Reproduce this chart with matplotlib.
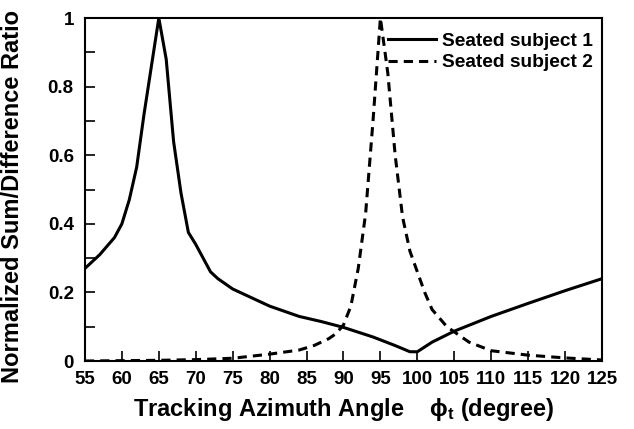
import numpy as np
import matplotlib.pyplot as plt
from matplotlib.ticker import MultipleLocator, FuncFormatter

plt.rcParams['font.family'] = ['Liberation Sans', 'DejaVu Sans']
plt.rcParams['font.weight'] = 'bold'
plt.rcParams['mathtext.fontset'] = 'custom'
plt.rcParams['mathtext.rm'] = 'Liberation Sans:bold'
plt.rcParams['mathtext.it'] = 'Liberation Sans:bold'
plt.rcParams['mathtext.bf'] = 'Liberation Sans:bold'

# Seated subject 1
angle_1 = [55, 56, 57, 58, 59, 60, 61, 62, 63, 64, 65, 66, 67, 68, 69, 70, 71, 72, 73, 74, 75,
           77, 80, 84, 87, 90, 94, 97, 99, 100, 102, 105, 110, 115, 120, 125]
ratio_1 = [0.27, 0.29, 0.31, 0.335, 0.36, 0.40, 0.47, 0.565, 0.72, 0.86, 1.0, 0.88, 0.64, 0.49,
           0.375, 0.34, 0.30, 0.26, 0.24, 0.225, 0.21, 0.19, 0.16, 0.13, 0.115, 0.098, 0.07,
           0.045, 0.027, 0.027, 0.055, 0.087, 0.13, 0.168, 0.205, 0.24]

# Seated subject 2
angle_2 = [55, 60, 65, 70, 75, 80, 84, 86, 88, 89, 90, 91, 92, 93, 94, 95, 96, 97, 98, 99, 100,
           101, 102, 103, 104, 105, 107, 110, 115, 120, 125]
ratio_2 = [0.0, 0.001, 0.002, 0.004, 0.008, 0.02, 0.032, 0.045, 0.065, 0.08, 0.105, 0.16, 0.27,
           0.43, 0.70, 1.0, 0.84, 0.60, 0.42, 0.32, 0.26, 0.20, 0.15, 0.125, 0.10, 0.085, 0.055,
           0.03, 0.017, 0.009, 0.003]

fig = plt.figure(figsize=(6.34, 4.29), dpi=100)
ax = fig.add_axes([0.134, 0.1585, 0.8155, 0.7995])

ax.plot(angle_1, ratio_1, color='black', lw=2.2, label='Seated subject 1')
ax.plot(angle_2, ratio_2, color='black', lw=2.2, dashes=(3, 2), label='Seated subject 2')

ax.set_xlim(55, 125)
ax.set_ylim(0, 1)
ax.xaxis.set_major_locator(MultipleLocator(5))
ax.yaxis.set_major_locator(MultipleLocator(0.2))
ax.yaxis.set_minor_locator(MultipleLocator(0.1))
ax.yaxis.set_major_formatter(FuncFormatter(lambda v, p: f'{v:g}'))
ax.tick_params(which='both', direction='in', length=7, width=1.2, labelsize=13.5)
ax.tick_params(axis='x', pad=7)
ax.tick_params(axis='y', pad=8)
for s in ax.spines.values():
    s.set_linewidth(1.5)

ax.set_xlabel(r'Tracking Azimuth Angle    $\phi_t$ (degree)', fontsize=17, fontweight='bold', labelpad=6)
ax.set_ylabel('Normalized Sum/Difference Ratio', fontsize=17, fontweight='bold')
ax.yaxis.set_label_coords(-0.118, 0.48)

ax.legend(loc='upper right', frameon=False, fontsize=13.8, handlelength=2.5,
          handletextpad=0.3, borderaxespad=0.1, labelspacing=0.2,
          bbox_to_anchor=(1.0, 0.985))

fig.savefig('out.png', dpi=100)
